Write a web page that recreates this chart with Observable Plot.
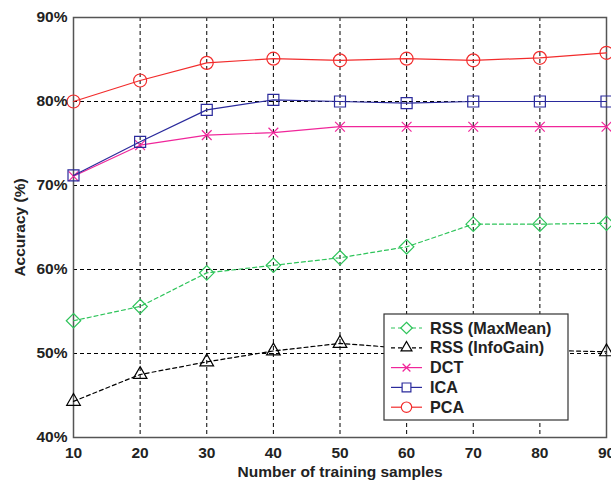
<!DOCTYPE html>
<html>
<head>
<meta charset="utf-8">
<script src="https://cdn.jsdelivr.net/npm/d3@7"></script>
<script src="https://cdn.jsdelivr.net/npm/@observablehq/plot@0.6"></script>
<style>
  html, body { margin: 0; padding: 0; background: #fff; }
  #chart { position: relative; width: 611px; height: 481px; }
  svg { font-family: "Liberation Sans", Arial, sans-serif; }
</style>
</head>
<body>
<div id="chart"></div>
<script>
const samples = [10, 20, 30, 40, 50, 60, 70, 80, 90];
const rssMaxMean = [53.9, 55.6, 59.6, 60.5, 61.4, 62.7, 65.4, 65.4, 65.5];
const rssInfoGain = [44.3, 47.5, 49.0, 50.3, 51.2, 50.6, 50.4, 50.4, 50.2];
const dct = [71.1, 74.8, 76.0, 76.3, 77.0, 77.0, 77.0, 77.0, 77.0];
const ica = [71.2, 75.2, 79.0, 80.2, 80.0, 79.8, 80.0, 80.0, 80.0];
const pca = [80.0, 82.5, 84.6, 85.1, 84.9, 85.1, 84.9, 85.2, 85.8];
const xTicks = [10, 20, 30, 40, 50, 60, 70, 80, 90];
const yTicks = [40, 50, 60, 70, 80, 90];

const series = [
  {name: "RSS (MaxMean)", values: rssMaxMean, color: "#2ec45a", symbol: "diamond2", dash: "4,3", r: 6.5},
  {name: "RSS (InfoGain)", values: rssInfoGain, color: "#000000", symbol: "triangle2", dash: "4,3", r: 6.5},
  {name: "DCT", values: dct, color: "#f0269a", symbol: "times", dash: null, r: 4.5},
  {name: "ICA", values: ica, color: "#2a2a9c", symbol: "square2", dash: null, r: 7},
  {name: "PCA", values: pca, color: "#f22c2c", symbol: "circle", dash: null, r: 6.5}
];

const rows = series.flatMap(s => samples.map((x, i) => ({series: s.name, x, y: s.values[i]})));

const lineMarks = series.flatMap(s => {
  const d = rows.filter(r => r.series === s.name);
  return [
    Plot.line(d, {x: "x", y: "y", stroke: s.color, strokeWidth: 1.2, strokeDasharray: s.dash}),
    Plot.dot(d, {x: "x", y: "y", stroke: s.color, symbol: () => s.symbol, r: s.r, strokeWidth: 1.2, fill: "none"})
  ];
});

const plot = Plot.plot({
  width: 611,
  height: 481,
  marginLeft: 73,
  marginRight: 5,
  marginTop: 17,
  marginBottom: 44,
  style: {fontFamily: "Liberation Sans, Arial, sans-serif", background: "#fff"},
  x: {domain: [10, 90]},
  y: {domain: [40, 90]},
  symbol: {type: "identity"},
  marks: [
    Plot.gridX(xTicks, {stroke: "#000", strokeOpacity: 1, strokeDasharray: "4,3", strokeWidth: 1}),
    Plot.gridY(yTicks, {stroke: "#000", strokeOpacity: 1, strokeDasharray: "4,3", strokeWidth: 1}),
    Plot.frame({stroke: "#555", strokeWidth: 1.5}),
    ...lineMarks,
    Plot.axisX(xTicks, {tickSize: 0, tickPadding: 9, fontSize: 15.5, fontWeight: "bold", fill: "#222",
      label: "Number of training samples", labelAnchor: "center", labelArrow: "none", labelOffset: 39}),
    Plot.axisY(yTicks, {tickSize: 0, tickPadding: 6, fontSize: 15.5, fontWeight: "bold", fill: "#222",
      tickFormat: d => d + "%",
      label: "Accuracy (%)", labelAnchor: "center", labelArrow: "none", labelOffset: 60})
  ]
});

const svg = d3.select(plot);
svg.selectAll("[aria-label='x-axis label'] text, [aria-label='y-axis label'] text")
  .attr("font-size", 15.5).attr("font-weight", "bold").attr("fill", "#222");

// Legend box drawn after the plot
const symbolTypes = {diamond2: d3.symbolDiamond2, triangle2: d3.symbolTriangle2, times: d3.symbolTimes, square2: d3.symbolSquare2, circle: d3.symbolCircle};
const lg = svg.append("g").attr("transform", "translate(384,314)").attr("text-anchor", "start");
lg.append("rect").attr("width", 184).attr("height", 106)
  .attr("fill", "#fff").attr("stroke", "#333").attr("stroke-width", 1.2);
series.forEach((s, i) => {
  const yy = 14 + i * 19.8;
  const g = lg.append("g").attr("transform", `translate(0,${yy})`);
  g.append("line").attr("x1", 7).attr("x2", 38).attr("y1", 0).attr("y2", 0)
    .attr("stroke", s.color).attr("stroke-width", 1.2).attr("stroke-dasharray", s.dash);
  const rr = s.r * 0.8;
  g.append("path").attr("d", d3.symbol().type(symbolTypes[s.symbol]).size(rr * rr * Math.PI)())
    .attr("transform", "translate(22.5,0)")
    .attr("fill", "#fff").attr("stroke", s.color).attr("stroke-width", 1.2);
  g.append("text").attr("x", 46).attr("y", 0).attr("dy", "0.35em").attr("text-anchor", "start")
    .attr("font-size", 16.2).attr("font-weight", "bold").attr("fill", "#222").text(s.name);
});

document.getElementById("chart").appendChild(plot);
</script>
</body>
</html>
